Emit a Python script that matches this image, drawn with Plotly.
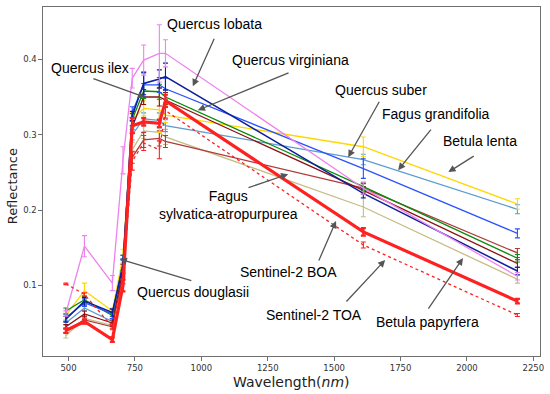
import plotly.graph_objects as go

# Sentinel-2 band centre wavelengths (nm)
wavelength = [490, 560, 665, 705, 740, 783, 842, 865, 1610, 2190]

# mean reflectance per band
q_douglasii = [0.063, 0.152, 0.103, 0.266, 0.375, 0.399, 0.408, 0.408, 0.229, 0.112]
q_lobata = [0.055, 0.079, 0.064, 0.125, 0.325, 0.368, 0.374, 0.377, 0.222, 0.119]
q_suber = [0.057, 0.077, 0.062, 0.128, 0.330, 0.366, 0.366, 0.361, 0.255, 0.169]
q_virginiana = [0.066, 0.081, 0.060, 0.130, 0.320, 0.358, 0.357, 0.350, 0.231, 0.136]
q_ilex = [0.045, 0.062, 0.050, 0.120, 0.310, 0.350, 0.350, 0.346, 0.226, 0.129]
b_lenta = [0.060, 0.093, 0.066, 0.138, 0.320, 0.335, 0.333, 0.326, 0.284, 0.208]
f_grandifolia = [0.050, 0.070, 0.052, 0.125, 0.300, 0.321, 0.319, 0.312, 0.267, 0.201]
b_papyrfera = [0.033, 0.056, 0.047, 0.120, 0.280, 0.305, 0.303, 0.297, 0.204, 0.108]
f_sylvatica = [0.040, 0.054, 0.045, 0.115, 0.270, 0.293, 0.295, 0.291, 0.229, 0.143]
s2_boa = [0.040, 0.052, 0.028, 0.100, 0.312, 0.317, 0.315, 0.345, 0.171, 0.079]
s2_toa = [0.102, 0.088, 0.045, 0.110, 0.265, 0.289, 0.280, 0.332, 0.1535, 0.0606]

# standard deviations
e_douglasii = [0.004, 0.014, 0.010, 0.018, 0.013, 0.020, 0.038, 0.018, 0.008, 0.005]
e_lobata = [0.004, 0.005, 0.005, 0.010, 0.006, 0.015, 0.012, 0.018, 0.006, 0.005]
e_suber = [0.005, 0.005, 0.006, 0.012, 0.007, 0.016, 0.010, 0.014, 0.013, 0.006]
e_virginiana = [0.004, 0.004, 0.004, 0.010, 0.008, 0.010, 0.010, 0.010, 0.005, 0.005]
e_ilex = [0.003, 0.004, 0.004, 0.008, 0.008, 0.010, 0.012, 0.010, 0.005, 0.005]
e_lenta = [0.005, 0.010, 0.004, 0.010, 0.010, 0.010, 0.030, 0.010, 0.013, 0.007]
e_grandifolia = [0.003, 0.004, 0.004, 0.008, 0.007, 0.008, 0.010, 0.008, 0.007, 0.006]
e_papyrfera = [0.003, 0.004, 0.004, 0.010, 0.010, 0.010, 0.012, 0.010, 0.013, 0.005]
e_sylvatica = [0.003, 0.005, 0.004, 0.008, 0.008, 0.010, 0.010, 0.008, 0.006, 0.006]
e_boa = [0.003, 0.003, 0.003, 0.008, 0.010, 0.005, 0.005, 0.008, 0.005, 0.003]
e_toa = [0.001, 0.002, 0.002, 0.008, 0.012, 0.010, 0.012, 0.010, 0.004, 0.002]

x_ticks = [500, 750, 1000, 1250, 1500, 1750, 2000, 2250]
y_ticks = [0.1, 0.2, 0.3, 0.4]
y_tick_labels = ["0.1", "0.2", "0.3", "0.4"]

series = [
    # name, values, errors, colour, width, dash
    ("Betula papyrfera", b_papyrfera, e_papyrfera, "#C5BD84", 1.3, "solid"),
    ("Fagus sylvatica-atropurpurea", f_sylvatica, e_sylvatica, "#B03A3A", 1.3, "solid"),
    ("Fagus grandifolia", f_grandifolia, e_grandifolia, "#5B9BD0", 1.3, "solid"),
    ("Betula lenta", b_lenta, e_lenta, "#FFD700", 1.3, "solid"),
    ("Quercus ilex", q_ilex, e_ilex, "#8B1010", 1.3, "solid"),
    ("Quercus virginiana", q_virginiana, e_virginiana, "#0A8A0A", 1.3, "solid"),
    ("Quercus suber", q_suber, e_suber, "#2A52FF", 1.3, "solid"),
    ("Quercus lobata", q_lobata, e_lobata, "#0D1F9C", 1.5, "solid"),
    ("Quercus douglasii", q_douglasii, e_douglasii, "#EE82EE", 1.3, "solid"),
    ("Sentinel-2 TOA", s2_toa, e_toa, "#FF2020", 1.3, "dot"),
    ("Sentinel-2 BOA", s2_boa, e_boa, "#FF2020", 3.2, "solid"),
]

fig = go.Figure()
for name, vals, errs, col, w, dash in series:
    fig.add_trace(go.Scatter(
        x=wavelength, y=vals, mode="lines", name=name,
        line=dict(color=col, width=w, dash=dash),
        error_y=dict(type="data", array=errs, visible=True, color=col,
                     thickness=2.2 if w > 2 else 1.1, width=2.5),
        showlegend=False,
    ))

# labels: text, text position, arrow tail, arrow tip (data coordinates)
labels = [
    ("Quercus lobata", (1051, 0.4466), (1051, 0.4293), (968, 0.3643)),
    ("Quercus ilex", (580, 0.388), (588, 0.375), (788, 0.3497)),
    ("Quercus virginiana", (1334, 0.3988), (1334, 0.383), (987, 0.3325)),
    ("Quercus suber", (1677, 0.359), (1673, 0.3457), (1553, 0.2702)),
    ("Fagus grandifolia", (1884, 0.327), (1869, 0.3086), (1741, 0.2529)),
    ("Betula lenta", (2050, 0.2914), (2031, 0.2728), (1930, 0.2503)),
    ("Fagus<br>sylvatica-atropurpurea", (1104, 0.2065), (1172, 0.229), (1327, 0.2476)),
    ("Quercus douglasii", (968, 0.0911), (968, 0.1057), (693, 0.1349)),
    ("Sentinel-2 BOA", (1327, 0.1176), (1440, 0.131), (1507, 0.1853)),
    ("Sentinel-2 TOA", (1425, 0.0606), (1541, 0.0765), (1692, 0.1336)),
    ("Betula papyrfera", (1851, 0.0513), (1851, 0.0672), (1985, 0.1362)),
]

annots = []
for text, (tx, ty), (ax_, ay_), (hx, hy) in labels:
    annots.append(dict(x=tx, y=ty, xref="x", yref="y", text=text, showarrow=False,
                       font=dict(family="Arial, Liberation Sans", size=14, color="black"),
                       xanchor="center", yanchor="middle", align="center"))
    annots.append(dict(x=hx, y=hy, xref="x", yref="y", ax=ax_, ay=ay_, axref="x", ayref="y",
                       text="", showarrow=True, arrowhead=2, arrowsize=1.1, arrowwidth=1.3,
                       arrowcolor="#555555", standoff=0, startstandoff=0))

annots.append(dict(x=-0.0618, y=0.487, xref="paper", yref="paper", text="Reflectance",
                   textangle=-90, showarrow=False,
                   font=dict(family="DejaVu Sans", size=13, color="#222"),
                   xanchor="center", yanchor="middle"))
annots.append(dict(x=0.501, y=-0.0745, xref="paper", yref="paper",
                   text="Wavelength(<i>nm</i>)", showarrow=False,
                   font=dict(family="DejaVu Sans", size=14, color="#222"),
                   xanchor="center", yanchor="middle"))

axis_common = dict(showline=True, mirror=True, linecolor="#707070", linewidth=1.2,
                   ticks="outside", ticklen=3.5, tickcolor="#707070", tickwidth=1,
                   showgrid=False, zeroline=False,
                   tickfont=dict(family="DejaVu Sans", size=8.5, color="#333"))

fig.update_layout(
    width=550, height=394,
    margin=dict(l=43, r=10, t=7, b=38),
    paper_bgcolor="white", plot_bgcolor="white",
    xaxis=dict(range=[404, 2275], tickvals=x_ticks, **axis_common),
    yaxis=dict(range=[0.0062, 0.4695], tickvals=y_ticks, ticktext=y_tick_labels, **axis_common),
    annotations=annots,
)

fig.write_html("out.html", config={"displayModeBar": False},
               post_script="document.body.style.margin='0';document.body.style.overflow='hidden';")
